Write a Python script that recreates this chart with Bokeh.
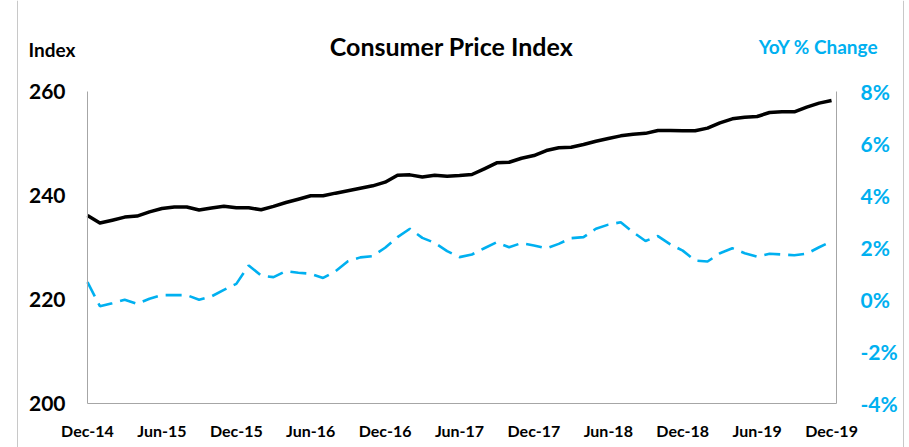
from bokeh.plotting import figure
from bokeh.models import (Range1d, LinearAxis, FixedTicker, PrintfTickFormatter,
                          Label, Span, ColumnDataSource)
from bokeh.embed import file_html
from bokeh.resources import INLINE

# ---- data (monthly, Dec-14 .. Dec-19) ----
months = list(range(61))
cpi = [236.15, 234.70, 235.25, 235.85, 236.05, 236.85, 237.50, 237.80, 237.80, 237.20,
       237.60, 237.95, 237.65, 237.65, 237.25, 237.90, 238.65, 239.29, 239.94, 239.94,
       240.45, 240.90, 241.40, 241.86, 242.56, 243.90, 243.97, 243.55, 243.90, 243.72,
       243.85, 244.04, 245.13, 246.28, 246.40, 247.17, 247.69, 248.65, 249.17, 249.29,
       249.80, 250.44, 250.96, 251.47, 251.79, 251.95, 252.50, 252.50, 252.44, 252.44,
       252.95, 253.97, 254.74, 255.06, 255.19, 255.96, 256.09, 256.09, 256.99, 257.76,
       258.27]
yoy = [0.67, -0.26, -0.14, -0.01, -0.17, 0.03, 0.17, 0.17, 0.17, -0.01,
       0.12, 0.37, 0.60, 1.31, 0.92, 0.86, 1.09, 1.03, 0.99, 0.83,
       1.09, 1.47, 1.62, 1.67, 1.99, 2.40, 2.72, 2.37, 2.18, 1.86,
       1.63, 1.73, 1.97, 2.20, 2.01, 2.17, 2.08, 1.97, 2.14, 2.36,
       2.40, 2.72, 2.88, 2.97, 2.59, 2.25, 2.44, 2.12, 1.88, 1.50,
       1.46, 1.78, 1.97, 1.78, 1.65, 1.76, 1.73, 1.70, 1.76, 2.01,
       2.24]
tick_positions = [0, 6, 12, 18, 24, 30, 36, 42, 48, 54, 60]
tick_labels = ["Dec-14", "Jun-15", "Dec-15", "Jun-16", "Dec-16", "Jun-17",
               "Dec-17", "Jun-18", "Dec-18", "Jun-19", "Dec-19"]
left_ticks = [200, 220, 240, 260]
right_ticks = [-4, -2, 0, 2, 4, 6, 8]

FONT = "Lato"
BLUE = "#00B0F0"
GRAY = "#a6a6a6"

W, H = 909, 447
# plot area (pixels) of the chart inside the canvas
PX_L, PX_R, PX_T, PX_B = 87.0, 836.0, 91.0, 403.0
X0, X1 = 0.0, 60.4          # months spanned by plot area
Y0, Y1 = 200.0, 260.0       # index axis
R0, R1 = -4.0, 8.0          # yoy axis


def sx(px):
    return X0 + (px - PX_L) * (X1 - X0) / (PX_R - PX_L)


def sy(py, a=Y0, b=Y1):
    return a + (PX_B - py) * (b - a) / (PX_B - PX_T)


src = ColumnDataSource(dict(m=months, cpi=cpi, yoy=yoy))

p = figure(width=W, height=H, output_backend="svg", toolbar_location=None,
           x_range=Range1d(sx(0), sx(W)), y_range=Range1d(sy(H), sy(0)),
           x_axis_type=None, y_axis_type=None,
           min_border=0, min_border_left=0, min_border_right=0,
           min_border_top=0, min_border_bottom=0)
p.extra_y_ranges = {"yoy": Range1d(sy(H, R0, R1), sy(0, R0, R1))}
p.outline_line_color = None
p.background_fill_color = "white"
p.border_fill_color = "white"

xax = LinearAxis(ticker=FixedTicker(ticks=tick_positions), fixed_location=Y0,
                 bounds=(X0, X1))
xax.major_label_overrides = {t: l for t, l in zip(tick_positions, tick_labels)}
lax = LinearAxis(ticker=FixedTicker(ticks=left_ticks), fixed_location=X0,
                 bounds=(Y0, Y1))
rax = LinearAxis(y_range_name="yoy", ticker=FixedTicker(ticks=right_ticks),
                 formatter=PrintfTickFormatter(format="%d%%"), fixed_location=X1,
                 bounds=(R0, R1))
p.add_layout(xax, "below")
p.add_layout(lax, "left")
p.add_layout(rax, "right")

for ax in [xax, lax, rax]:
    ax.axis_line_color = GRAY
    ax.axis_line_width = 1
    ax.major_tick_line_color = None
    ax.minor_tick_line_color = None
    ax.major_tick_out = 0
    ax.major_tick_in = 0
    ax.major_label_text_font = FONT
    ax.major_label_text_font_style = "bold"

xax.major_label_text_font_size = "16px"
xax.major_label_text_color = "black"
xax.major_label_standoff = 17
lax.major_label_text_font_size = "21px"
lax.major_label_text_color = "black"
lax.major_label_standoff = 22
rax.major_label_text_font_size = "21px"
rax.major_label_text_color = BLUE
rax.major_label_standoff = 24

# lines
p.line("m", "cpi", source=src, line_color="black", line_width=3.5, line_join="round")
p.line("m", "yoy", source=src, y_range_name="yoy", line_color=BLUE, line_width=2.6,
       line_dash="16 8")

# texts
p.add_layout(Label(x=sx(451), y=sy(45), text="Consumer Price Index", text_align="center",
                   text_baseline="middle", text_font=FONT, text_font_style="bold",
                   text_font_size="25px", text_color="black"))
p.add_layout(Label(x=sx(51.5), y=sy(49), text="Index", text_align="center",
                   text_baseline="middle", text_font=FONT, text_font_style="bold",
                   text_font_size="19px", text_color="black"))
p.add_layout(Label(x=sx(818), y=sy(46), text="YoY % Change", text_align="center",
                   text_baseline="middle", text_font=FONT, text_font_style="bold",
                   text_font_size="19px", text_color=BLUE))

# thin side borders of the slide frame
for px in (17, 903):
    p.add_layout(Span(location=sx(px), dimension="height", line_color="#c8c8c8",
                      line_width=1))

open("out.html", "w").write(file_html(p, INLINE))
